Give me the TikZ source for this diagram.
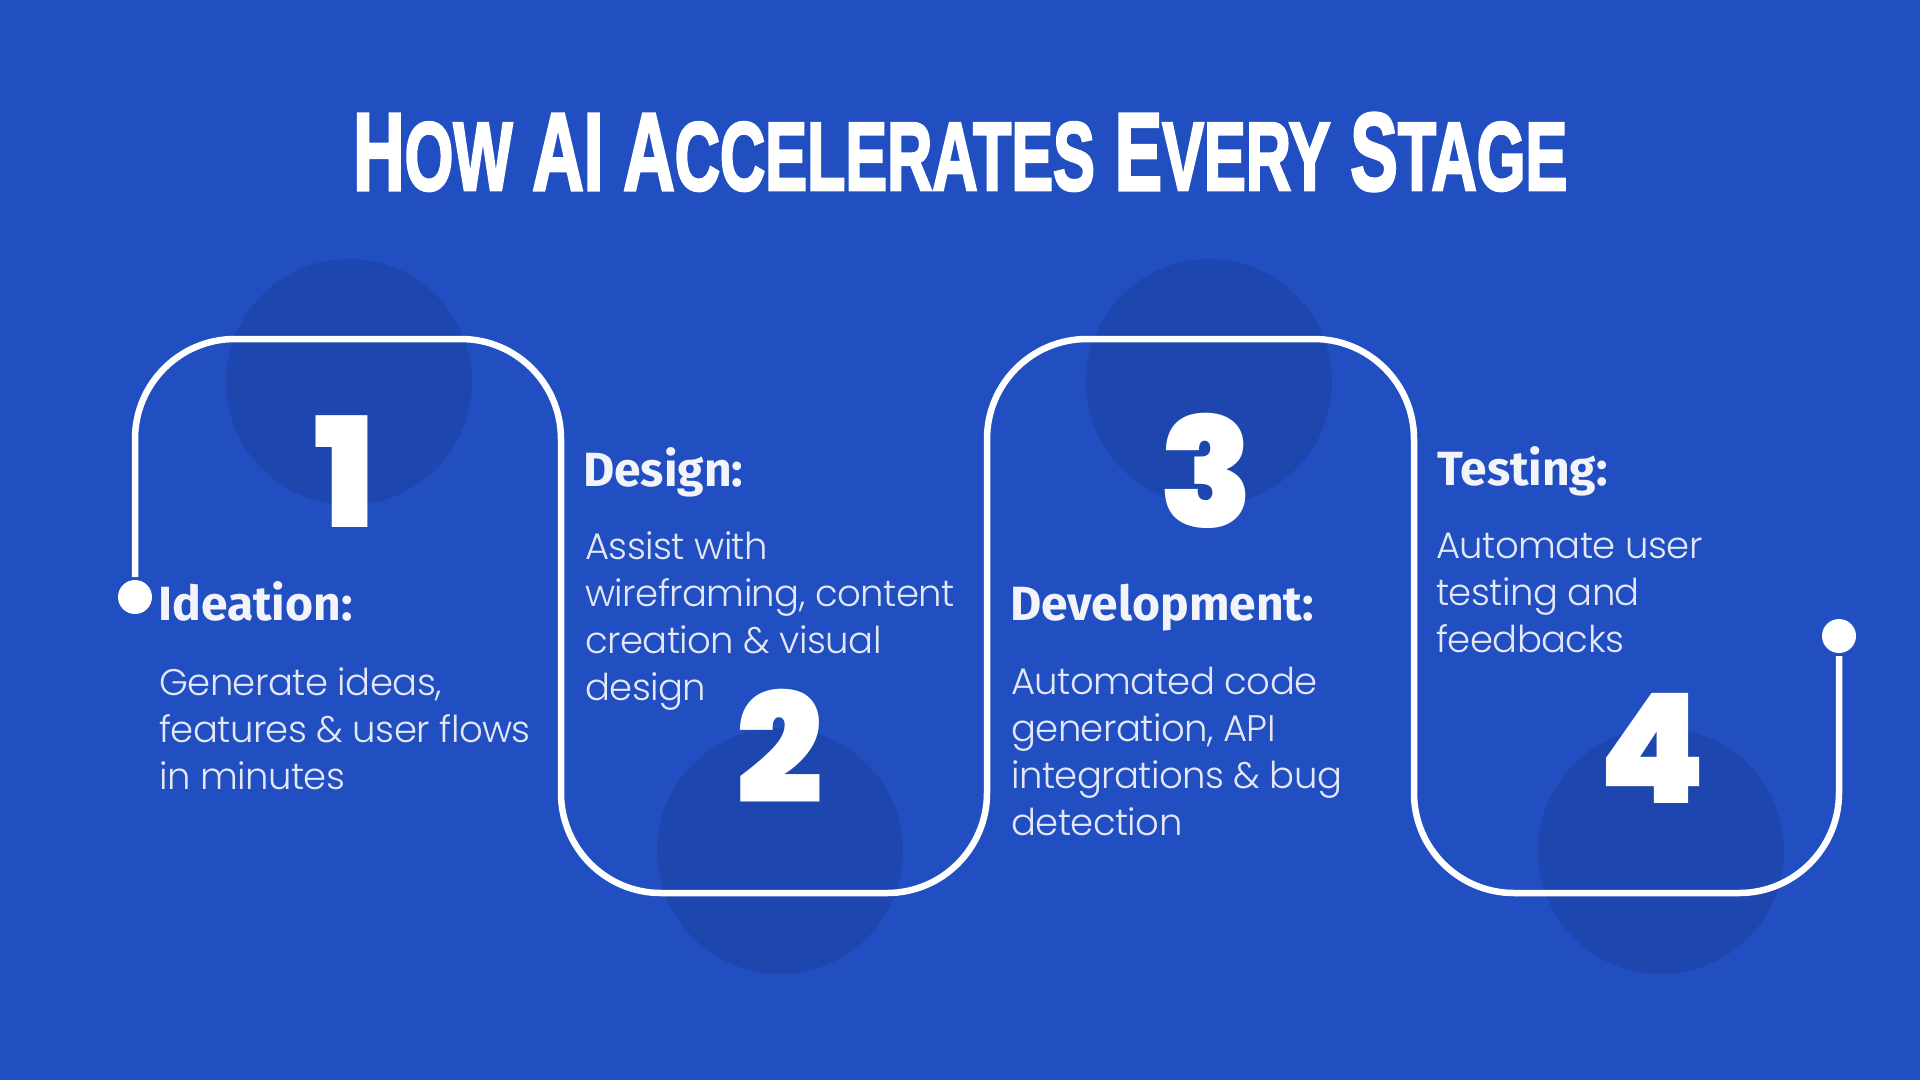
\documentclass[tikz,border=0pt]{standalone}
\usepackage{fontspec}
\usepackage{graphicx}
\newfontfamily\headfont{Fira Sans}
\newfontfamily\bodyfont{Poppins Light}[LetterSpace=-1.5]
\newfontfamily\numfont{Poppins Black}
\newfontfamily\titlefont{Liberation Sans}[BoldFeatures={FakeBold=3}]
\definecolor{bg}{HTML}{214FC2}
\definecolor{circ}{HTML}{1D47AE}
\definecolor{headc}{HTML}{F3F4FA}
\definecolor{bodyc}{HTML}{E4E8F6}
\newcommand\tsc[1]{{\fontsize{88}{88}\selectfont #1}}
\tikzset{
  pathline/.style={draw=white, line width=6.5pt, rounded corners=100pt},
  dotnode/.style={circle, fill=white, inner sep=0, minimum size=34pt, outer sep=3pt},
  bgcirc/.style={circle, fill=circ, inner sep=0, minimum size=246pt},
  numtxt/.style={anchor=base, inner sep=0, text=white, font=\numfont\fontsize{153}{153}\selectfont},
  headtxt/.style={anchor=base west, inner sep=0, text=headc, font=\headfont\bfseries\fontsize{48}{56}\selectfont},
  bodytxt/.style={anchor=base west, inner sep=0, text=bodyc, font=\bodyfont\fontsize{37}{47}\selectfont},
}
\begin{document}
\begin{tikzpicture}[x=1pt, y=-1pt]
\useasboundingbox (0,0) rectangle (1920,1080);
\fill[bg] (0,0) rectangle (1920,1080);
% title
\node[anchor=base west, inner sep=0, text=white] (title) at (353,190)
  {\resizebox{1214pt}{77pt}{\titlefont\bfseries\fontsize{100}{100}\selectfont H\tsc{OW} AI A\tsc{CCELERATES} E\tsc{VERY} S\tsc{TAGE}}};
% background circles
\node[bgcirc] (c1) at (349,382) {};
\node[bgcirc] (c2) at (780,851) {};
\node[bgcirc] (c3) at (1209,382) {};
\node[bgcirc] (c4) at (1661,851) {};
% dots and path
\node[dotnode] (d1) at (135,597) {};
\node[dotnode] (d2) at (1839,636) {};
\draw[pathline] (d1.north) -- (135,339) -- (561,339) -- (561,893) -- (987,893) -- (987,339)
  -- (1414,339) -- (1414,893) -- (1839,893) -- (d2.south);
% numbers
\node[numtxt] (n1) at (345,527) {1};
\node[numtxt] (n2) at (780,803) {2};
\node[numtxt] (n3) at (1207,527) {3};
\node[numtxt] (n4) at (1652,803) {4};
% headings
\node[headtxt] (h1) at (158,620) {Ideation:};
\node[headtxt] (h2) at (583,486) {Design:};
\node[headtxt] (h3) at (1010,620) {Development:};
\node[headtxt] (h4) at (1437,485) {Testing:};
% bodies
\node[bodytxt] (b1) at (159,695) {\parbox[t]{420pt}{\raggedright Generate ideas,\\ features \& user flows\\ in minutes}};
\node[bodytxt] (b2) at (585,559) {\parbox[t]{420pt}{\raggedright Assist with\\ wireframing, content\\ creation \& visual\\ design}};
\node[bodytxt] (b3) at (1011,694) {\parbox[t]{420pt}{\raggedright Automated code\\ generation, API\\ integrations \& bug\\ detection}};
\node[bodytxt] (b4) at (1436,558) {\parbox[t]{420pt}{\raggedright Automate user\\ testing and\\ feedbacks}};
\end{tikzpicture}
\end{document}
